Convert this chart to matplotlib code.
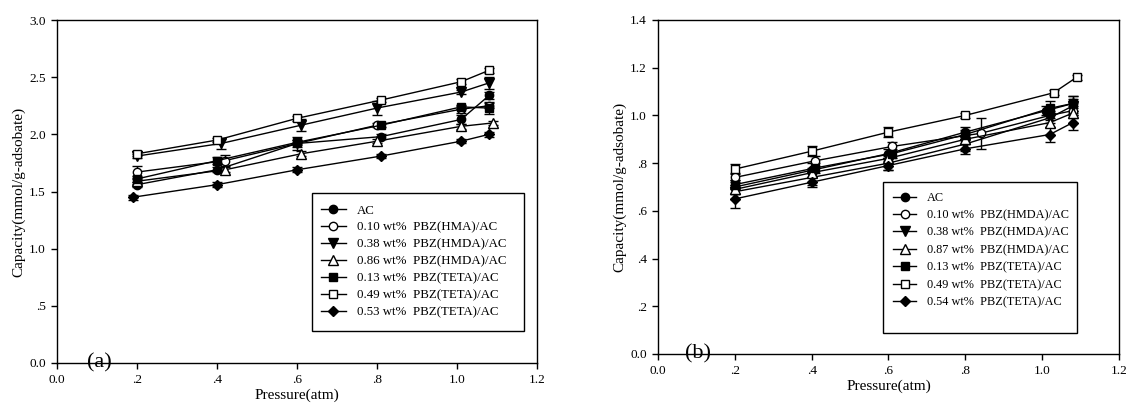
#!/usr/bin/env python3
"""
CO2 capacity vs pressure, panels (a) and (b)
"""

import matplotlib.pyplot as plt
from matplotlib.patches import Rectangle
from matplotlib.ticker import FixedLocator, FixedFormatter

plt.rcParams["font.family"] = ["Liberation Serif", "DejaVu Serif"]

# ---- panel (a) data ----
labels_a = [
    "AC",
    "0.10 wt%  PBZ(HMA)/AC",
    "0.38 wt%  PBZ(HMDA)/AC",
    "0.86 wt%  PBZ(HMDA)/AC",
    "0.13 wt%  PBZ(TETA)/AC",
    "0.49 wt%  PBZ(TETA)/AC",
    "0.53 wt%  PBZ(TETA)/AC",
]
x_a = [
    [0.20, 0.40, 0.60, 0.81, 1.01, 1.08],
    [0.20, 0.42, 0.60, 0.80, 1.01, 1.08],
    [0.20, 0.41, 0.61, 0.80, 1.01, 1.08],
    [0.20, 0.42, 0.61, 0.80, 1.01, 1.09],
    [0.20, 0.40, 0.60, 0.81, 1.01, 1.08],
    [0.20, 0.40, 0.60, 0.81, 1.01, 1.08],
    [0.19, 0.40, 0.60, 0.81, 1.01, 1.08],
]
y_a = [
    [1.56, 1.69, 1.92, 1.98, 2.13, 2.34],
    [1.67, 1.77, 1.92, 2.08, 2.22, 2.25],
    [1.81, 1.92, 2.08, 2.23, 2.37, 2.45],
    [1.59, 1.69, 1.83, 1.94, 2.07, 2.10],
    [1.61, 1.77, 1.93, 2.08, 2.24, 2.23],
    [1.83, 1.95, 2.14, 2.30, 2.46, 2.56],
    [1.45, 1.56, 1.69, 1.81, 1.94, 2.00],
]
err_a = [
    [0.02, 0.02, 0.06, 0.02, 0.04, 0.03],
    [0.05, 0.05, 0.03, 0.02, 0.03, 0.02],
    [0.02, 0.05, 0.05, 0.06, 0.02, 0.05],
    [0.02, 0.02, 0.02, 0.02, 0.02, 0.02],
    [0.03, 0.03, 0.02, 0.02, 0.02, 0.05],
    [0.02, 0.02, 0.02, 0.02, 0.02, 0.02],
    [0.02, 0.02, 0.02, 0.02, 0.02, 0.02],
]

# ---- panel (b) data ----
labels_b = [
    "AC",
    "0.10 wt%  PBZ(HMDA)/AC",
    "0.38 wt%  PBZ(HMDA)/AC",
    "0.87 wt%  PBZ(HMDA)/AC",
    "0.13 wt%  PBZ(TETA)/AC",
    "0.49 wt%  PBZ(TETA)/AC",
    "0.54 wt%  PBZ(TETA)/AC",
]
x_b = [
    [0.20, 0.40, 0.60, 0.80, 1.01, 1.08],
    [0.20, 0.41, 0.61, 0.84, 1.02, 1.08],
    [0.20, 0.40, 0.60, 0.80, 1.02, 1.08],
    [0.20, 0.40, 0.60, 0.80, 1.02, 1.08],
    [0.20, 0.41, 0.61, 0.80, 1.02, 1.08],
    [0.20, 0.40, 0.60, 0.80, 1.03, 1.09],
    [0.20, 0.40, 0.60, 0.80, 1.02, 1.08],
]
y_b = [
    [0.70, 0.77, 0.84, 0.93, 1.02, 1.05],
    [0.74, 0.81, 0.87, 0.925, 1.00, 1.02],
    [0.68, 0.74, 0.80, 0.88, 0.99, 1.04],
    [0.69, 0.76, 0.82, 0.90, 0.97, 1.01],
    [0.71, 0.78, 0.84, 0.92, 1.03, 1.05],
    [0.775, 0.85, 0.93, 1.00, 1.095, 1.16],
    [0.65, 0.72, 0.79, 0.86, 0.92, 0.97],
]
err_b = [
    [0.03, 0.03, 0.02, 0.02, 0.02, 0.03],
    [0.02, 0.02, 0.02, 0.065, 0.02, 0.02],
    [0.03, 0.03, 0.03, 0.03, 0.02, 0.03],
    [0.02, 0.02, 0.02, 0.02, 0.02, 0.02],
    [0.02, 0.02, 0.02, 0.02, 0.03, 0.03],
    [0.02, 0.02, 0.02, 0.01, 0.01, 0.01],
    [0.04, 0.02, 0.02, 0.02, 0.03, 0.03],
]

markers = ["o", "o", "v", "^", "s", "s", "D"]
faces = ["black", "white", "black", "white", "black", "white", "black"]
sizes = [6, 6, 6.5, 6.5, 5.5, 6, 5.2]

x_ticks = [0.0, 0.2, 0.4, 0.6, 0.8, 1.0, 1.2]
x_ticklabels = ["0.0", ".2", ".4", ".6", ".8", "1.0", "1.2"]
ya_ticks = [0.0, 0.5, 1.0, 1.5, 2.0, 2.5, 3.0]
ya_ticklabels = ["0.0", ".5", "1.0", "1.5", "2.0", "2.5", "3.0"]
yb_ticks = [0.0, 0.2, 0.4, 0.6, 0.8, 1.0, 1.2, 1.4]
yb_ticklabels = ["0.0", ".2", ".4", ".6", ".8", "1.0", "1.2", "1.4"]


def draw_panel(ax, xs, ys, errs, labels, yticks, yticklabels, ymax, tag,
               box, anchor, leg_fs, leg_sp):
    for i in range(len(labels)):
        ax.errorbar(
            xs[i], ys[i], yerr=errs[i],
            color="black", ecolor="black", elinewidth=1, capsize=3.5, capthick=1,
            lw=1, marker=markers[i], ms=sizes[i], mfc=faces[i], mec="black",
            mew=1, label=labels[i],
        )
    ax.set_xlim(0, 1.2)
    ax.set_ylim(0, ymax)
    ax.xaxis.set_major_locator(FixedLocator(x_ticks))
    ax.xaxis.set_major_formatter(FixedFormatter(x_ticklabels))
    ax.yaxis.set_major_locator(FixedLocator(yticks))
    ax.yaxis.set_major_formatter(FixedFormatter(yticklabels))
    ax.tick_params(direction="out", length=4, width=1, labelsize=9.5, pad=4)
    for s in ax.spines.values():
        s.set_linewidth(1)
    ax.set_xlabel("Pressure(atm)", fontsize=11, labelpad=2)
    ax.set_ylabel("Capacity(mmol/g-adsobate)", fontsize=11, labelpad=3)
    ax.text(0.105, 0.0, tag, fontsize=16, ha="center", va="center", clip_on=False)

    # legend frame drawn separately: the original box has extra room at the bottom
    x0, y0, x1, y1 = box
    ax.add_patch(Rectangle((x0, y0), x1 - x0, y1 - y0, transform=ax.transAxes,
                           facecolor="white", edgecolor="black", lw=1, zorder=4))
    handles, lbls = ax.get_legend_handles_labels()
    handles = [h[0] for h in handles]
    leg = ax.legend(
        handles, lbls, loc="upper left", bbox_to_anchor=anchor,
        fontsize=leg_fs, frameon=False, borderpad=0, borderaxespad=0,
        handlelength=1.9, handletextpad=0.85, labelspacing=leg_sp,
    )
    leg.set_zorder(5)


fig = plt.figure(figsize=(11.29, 4.03), dpi=100)
ax_a = fig.add_axes([0.0505, 0.0993, 0.4252, 0.851])
ax_b = fig.add_axes([0.5828, 0.1216, 0.4083, 0.8288])

draw_panel(ax_a, x_a, y_a, err_a, labels_a, ya_ticks, ya_ticklabels, 3.0, "(a)",
           (0.531, 0.093, 0.973, 0.496), (0.55, 0.462), 9.3, 0.38)
draw_panel(ax_b, x_b, y_b, err_b, labels_b, yb_ticks, yb_ticklabels, 1.4, "(b)",
           (0.488, 0.063, 0.909, 0.515), (0.51, 0.485), 8.8, 0.44)

fig.savefig("out.png", dpi=100)
